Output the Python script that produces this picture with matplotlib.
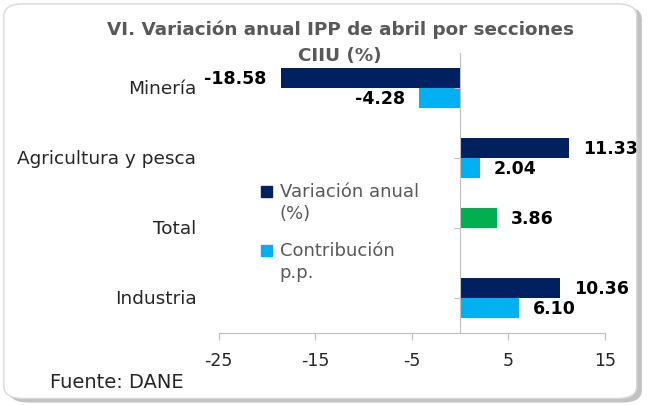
import matplotlib.pyplot as plt
from matplotlib.patches import FancyBboxPatch, Rectangle
import matplotlib.transforms as mtransforms
import numpy as np

# data
categories = ['Minería', 'Agricultura y pesca', 'Total', 'Industria']
variacion = [-18.58, 11.33, 3.86, 10.36]
contribucion = [-4.28, 2.04, None, 6.10]
var_colors = ['#002060', '#002060', '#00B050', '#002060']
contrib_color = '#00B0F0'
legend_labels = ['Variación anual\n(%)', 'Contribución\np.p.']
xticks = [-25, -15, -5, 5, 15]

plt.rcParams['font.family'] = ['DejaVu Sans']
plt.rcParams['axes.unicode_minus'] = False

fig = plt.figure(figsize=(6.49, 4.06), dpi=100)

# rounded frame with a shadow at right / bottom
shadow = FancyBboxPatch((0.014, 0.006), 0.975, 0.975,
                        boxstyle='round,pad=0,rounding_size=0.03',
                        transform=fig.transFigure, facecolor='#9a9a9a',
                        edgecolor='none', zorder=0, alpha=0.6)
frame = FancyBboxPatch((0.006, 0.016), 0.975, 0.972,
                       boxstyle='round,pad=0,rounding_size=0.03',
                       transform=fig.transFigure, facecolor='white',
                       edgecolor='#d9d9d9', linewidth=1.0, zorder=1)
fig.patches.extend([shadow, frame])

ax = fig.add_axes([0.337, 0.177, 0.595, 0.69])
ax.set_facecolor('none')
ax.set_zorder(2)

y = np.arange(len(categories))
h = 0.286


def label(v, yy):
    ax.annotate(f'{v:.2f}', (v, yy), xytext=(10 if v > 0 else -10, 0),
                textcoords='offset points', ha='left' if v > 0 else 'right',
                va='center', fontsize=12.5, fontweight='bold', color='black')


for i, v in enumerate(variacion):
    ax.barh(y[i] - h / 2, v, height=h, color=var_colors[i])
    label(v, y[i] - h / 2)
for i, v in enumerate(contribucion):
    if v is None:
        continue
    ax.barh(y[i] + h / 2, v, height=h, color=contrib_color)
    label(v, y[i] + h / 2)

ax.set_xlim(-25, 15)
ax.set_ylim(3.5, -0.5)
ax.set_xticks(xticks)
ax.set_xticklabels([str(t) for t in xticks], fontsize=12.5, color='#262626')
ax.tick_params(axis='x', length=5, color='#bfbfbf', pad=8)

ax.set_yticks(y)
ax.spines['left'].set_position(('data', 0))
ax.tick_params(axis='y', length=4, color='#bfbfbf', labelleft=False)
for s in ['top', 'right']:
    ax.spines[s].set_visible(False)
ax.spines['left'].set_color('#bfbfbf')
ax.spines['bottom'].set_color('#bfbfbf')

trans = mtransforms.blended_transform_factory(ax.transAxes, ax.transData)
for i, c in enumerate(categories):
    ax.text(-0.058, y[i], c, transform=trans, ha='right', va='center',
            fontsize=13.3, color='#262626')

# legend, square aligned with the first line of each label
for (yb, col, lab) in [(0.486, '#002060', legend_labels[0]),
                       (0.275, contrib_color, legend_labels[1])]:
    ax.add_patch(Rectangle((0.109, yb), 0.028, 0.039, transform=ax.transAxes,
                           color=col, clip_on=False))
    ax.text(0.158, yb + 0.055, lab, transform=ax.transAxes, va='top',
            ha='left', fontsize=13, color='#595959', linespacing=1.3)

fig.text(0.524, 0.895, 'VI. Variación anual IPP de abril por secciones\nCIIU (%)',
         ha='center', va='center', fontsize=13.2, fontweight='bold',
         color='#595959', linespacing=1.6)
fig.text(0.077, 0.057, 'Fuente: DANE', fontsize=14, color='#262626',
         ha='left', va='center')

plt.savefig('out.png', dpi=100)
